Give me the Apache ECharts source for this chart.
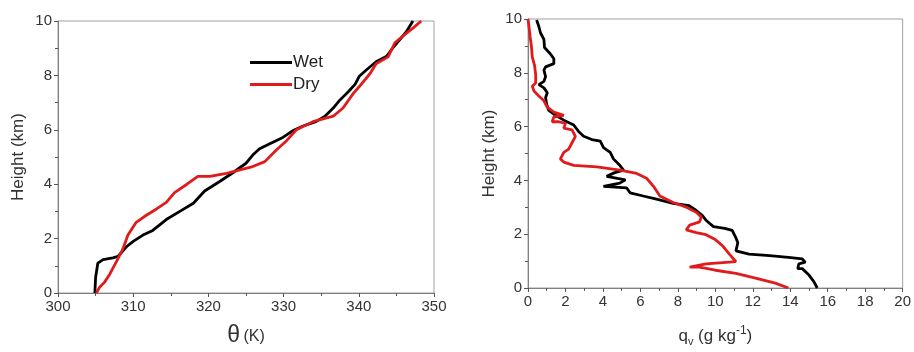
<!DOCTYPE html>
<html><head><meta charset="utf-8">
<script src="https://cdn.jsdelivr.net/npm/echarts@6/dist/echarts.min.js"></script>
<style>html,body{margin:0;padding:0;background:#fff}#c{width:914px;height:352px}</style>
</head><body><div id="c"></div>
<script>
// Left panel: potential temperature profiles
var wetThetaH = [0,0.57,0.93,1.1,1.23,1.29,1.35,1.7,1.9,2.13,2.3,2.7,3.0,3.3,3.75,4.1,4.43,4.77,5.07,5.3,5.48,5.72,5.96,6.14,6.3,6.5,6.8,7.1,7.4,7.67,7.98,8.2,8.5,8.7,9.0,9.3,9.6,10];
var wetTheta = [304.9,305.0,305.2,305.3,306.0,307.3,308.0,309.1,310.0,311.3,312.6,314.4,316.2,318.0,319.5,321.5,323.3,325.0,325.9,326.8,328.1,329.9,331.2,332.6,334.3,335.5,336.6,337.5,338.6,339.5,340.1,341.0,342.3,343.7,344.5,345.4,346.3,347.2];
var dryThetaH = [0,0.2,0.4,0.7,1.17,1.6,2.13,2.6,2.85,3.09,3.33,3.69,3.99,4.29,4.29,4.4,4.53,4.65,4.83,5.25,5.6,6.0,6.3,6.5,6.8,7.35,7.6,8.07,8.43,8.68,9.2,9.5,9.74,10];
var dryTheta = [305.1,305.5,306.2,306.9,307.8,308.6,309.3,310.4,311.7,313.1,314.4,315.5,317.1,318.6,320.2,322.4,324.2,325.9,327.5,329.0,330.4,331.7,333.9,336.6,337.9,339.3,340.1,341.5,342.3,343.9,344.8,346.1,347.2,348.3];
// Right panel: water vapour mixing ratio profiles
var wetQvH = [0,0.24,0.48,0.72,0.72,0.9,0.96,1.08,1.14,1.2,1.26,1.38,1.68,1.86,2.14,2.22,2.28,2.52,2.7,2.88,3.06,3.15,3.3,3.42,3.54,3.72,3.78,3.9,4.02,4.15,4.28,4.38,4.56,4.8,5.04,5.22,5.46,5.52,5.64,5.82,6.06,6.24,6.42,6.6,6.84,7.08,7.26,7.44,7.56,7.68,7.86,8.1,8.22,8.34,8.52,8.7,8.94,9.24,9.48,9.72,9.96];
var wetQv = [15.44,15.26,15.0,14.64,14.4,14.46,14.8,14.64,13.9,12.9,11.8,11.1,11.2,11.1,10.9,10.5,9.9,9.5,9.3,8.98,8.6,7.75,6.86,6.15,5.45,5.27,4.03,4.9,5.2,4.2,4.6,5.1,4.9,4.56,4.39,4.03,3.86,3.41,2.97,2.7,2.44,1.91,1.47,1.11,0.99,0.94,1.03,0.85,0.58,0.85,0.94,0.85,0.94,1.38,1.38,1.2,0.88,0.85,0.67,0.58,0.46];
var dryQvH = [0,0.18,0.36,0.54,0.66,0.78,0.78,0.9,0.98,1.26,1.56,1.8,1.98,2.06,2.16,2.34,2.46,2.64,2.82,3.0,3.18,3.42,3.78,4.08,4.26,4.38,4.5,4.56,4.68,4.8,5.04,5.16,5.4,5.64,5.88,5.94,6.12,6.18,6.18,6.36,6.42,6.54,6.72,6.96,7.14,7.32,7.5,7.62,7.92,8.28,8.58,9.0,9.36,9.72,10];
var dryQv = [13.9,13.2,12.2,11.1,10.0,9.16,8.63,9.5,11.1,10.75,10.4,10.0,9.5,8.98,8.45,8.63,9.16,9.25,8.98,8.45,7.75,7.04,6.7,6.33,5.8,4.9,3.68,2.44,1.91,1.73,1.91,2.17,2.35,2.53,2.35,1.91,2.0,1.64,1.29,1.38,1.91,1.38,1.03,0.85,0.58,0.32,0.23,0.41,0.41,0.35,0.23,0.18,0.11,0.05,0];
var seriesNames = ['Wet','Dry'];

function pairs(xs, hs){ return xs.map(function(v,i){ return [v, hs[i]]; }); }

var FONT = 'Liberation Sans, Arial, sans-serif';
var axisCommon = {
  axisLine: {show: true, onZero: false, lineStyle: {color: '#808080', width: 1}},
  axisTick: {show: true, inside: false, length: 4, lineStyle: {color: '#555'}},
  minorTick: {show: true, splitNumber: 2, length: 3, lineStyle: {color: '#555'}},
  splitLine: {show: false},
  axisLabel: {color: '#333', fontSize: 15, fontFamily: FONT, margin: 6}
};
function ax(extra){ return Object.assign({}, JSON.parse(JSON.stringify(axisCommon)), extra); }

var option = {
  animation: false,
  backgroundColor: '#fff',
  legend: {
    data: seriesNames, orient: 'vertical', left: 245, top: 49, itemGap: 5,
    itemWidth: 42, itemHeight: 3, icon: 'rect',
    textStyle: {fontSize: 17, fontFamily: FONT, color: '#222', padding: [0,0,0,-4]}
  },
  grid: [
    {left: 58, top: 21, width: 376, height: 278, show: true, borderColor: '#a0a0a0', borderWidth: 1, containLabel: false},
    {left: 528, top: 19, width: 377, height: 278, show: true, borderColor: '#a0a0a0', borderWidth: 1, containLabel: false}
  ],
  xAxis: [
    ax({gridIndex: 0, type: 'value', min: 300, max: 350, interval: 10,
      name: '{t|θ} {u|(K)}', nameLocation: 'middle', nameGap: 31,
      nameTextStyle: {rich: {t: {fontSize: 23, fontFamily: FONT, color: '#333'}, u: {fontSize: 16, fontFamily: FONT, color: '#333', padding: [3,0,0,0]}}}}),
    ax({gridIndex: 1, type: 'value', min: 0, max: 20, interval: 2,
      name: '{t|q}{s|v}{u| (g kg}{p|-1}{u|)}', nameLocation: 'middle', nameGap: 30,
      nameTextStyle: {rich: {
        t: {fontSize: 17, fontFamily: FONT, color: '#333', padding: [8,0,0,0]},
        s: {fontSize: 11, fontFamily: FONT, color: '#333', padding: [18,0,0,0]},
        u: {fontSize: 17, fontFamily: FONT, color: '#333', padding: [8,0,0,0]},
        p: {fontSize: 12, fontFamily: FONT, color: '#333', padding: [0,0,4,0]}
      }}})
  ],
  yAxis: [
    ax({gridIndex: 0, type: 'value', min: 0, max: 10, interval: 2,
      name: 'Height (km)', nameLocation: 'middle', nameGap: 31,
      nameTextStyle: {fontSize: 17, fontFamily: FONT, color: '#333'}}),
    ax({gridIndex: 1, type: 'value', min: 0, max: 10, interval: 2,
      name: 'Height (km)', nameLocation: 'middle', nameGap: 30,
      nameTextStyle: {fontSize: 17, fontFamily: FONT, color: '#333'}})
  ],
  series: [
    {name: 'Wet', type: 'line', xAxisIndex: 0, yAxisIndex: 0, data: pairs(wetTheta, wetThetaH), showSymbol: false, smooth: false, lineStyle: {color: '#000', width: 2.8}, itemStyle: {color: '#000'}, z: 2},
    {name: 'Dry', type: 'line', xAxisIndex: 0, yAxisIndex: 0, data: pairs(dryTheta, dryThetaH), showSymbol: false, lineStyle: {color: '#e01b1b', width: 2.8}, itemStyle: {color: '#e01b1b'}, z: 3},
    {name: 'Wet', type: 'line', xAxisIndex: 1, yAxisIndex: 1, data: pairs(wetQv, wetQvH), showSymbol: false, lineStyle: {color: '#000', width: 2.8}, itemStyle: {color: '#000'}, z: 2},
    {name: 'Dry', type: 'line', xAxisIndex: 1, yAxisIndex: 1, data: pairs(dryQv, dryQvH), showSymbol: false, lineStyle: {color: '#e01b1b', width: 2.8}, itemStyle: {color: '#e01b1b'}, z: 3}
  ]
};
var chart = echarts.init(document.getElementById('c'), null, {renderer: 'canvas'});
chart.setOption(option);
</script></body></html>
